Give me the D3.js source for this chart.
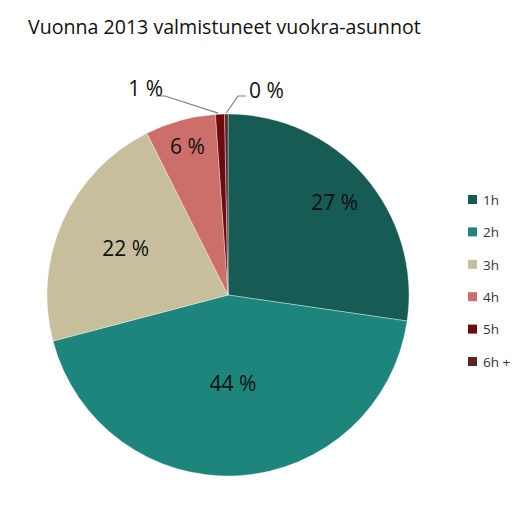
<!DOCTYPE html>
<html><head><meta charset="utf-8">
<script src="https://cdn.jsdelivr.net/npm/d3@7"></script>
<style>body{margin:0;background:#fff}svg{display:block}</style>
</head><body>
<script>
const categories = ["1h","2h","3h","4h","5h","6h +"];
const values = [27.3, 43.6, 21.7, 6.3, 0.8, 0.3];
const labels = ["27 %","44 %","22 %","6 %","1 %","0 %"];
const colors = ["#175b55","#1d857c","#c7bf9b","#cc6f6a","#6c0b0b","#5a2424"];
const labelRadius = [0.78, 0.49, 0.62, 0.85, null, null];

const W=531,H=517, cx=228, cy=295, R=181;
const svg=d3.select("body").append("svg").attr("width",W).attr("height",H);
const font="'Open Sans', sans-serif";

svg.append("text").attr("x",28).attr("y",34).attr("font-family",font).attr("font-size",19.6)
  .attr("fill","#111").text("Vuonna 2013 valmistuneet vuokra-asunnot");

const pie=d3.pie().sort(null).value(d=>d);
const arcs=pie(values);
const arc=d3.arc().innerRadius(0).outerRadius(R);
const g=svg.append("g").attr("transform",`translate(${cx},${cy})`);
g.selectAll("path").data(arcs).join("path").attr("d",arc)
  .attr("fill",(d,i)=>colors[i]).attr("stroke","#ffffff").attr("stroke-width",0.6).attr("stroke-opacity",0.6);

arcs.forEach((d,i)=>{
  if(labelRadius[i]==null) return;
  const a=(d.startAngle+d.endAngle)/2, r=R*labelRadius[i];
  g.append("text").attr("x",Math.sin(a)*r).attr("y",-Math.cos(a)*r).attr("dy","0.35em")
   .attr("text-anchor","middle").attr("font-family",font).attr("font-size",21).attr("fill","#111").text(labels[i]);
});

function edge(d){const a=(d.startAngle+d.endAngle)/2;return [Math.sin(a)*R, -Math.cos(a)*R];}
const e4=edge(arcs[4]), e5=edge(arcs[5]);
g.append("path").attr("d",d3.line()([[e4[0]-2,e4[1]-1],[-63,-199],[-72,-199]])).attr("fill","none").attr("stroke","#808080").attr("stroke-width",1.2);
g.append("text").attr("x",-65).attr("y",-199).attr("text-anchor","end").attr("font-family",font).attr("font-size",21).attr("fill","#111").text(labels[4]);
g.append("path").attr("d",d3.line()([[e5[0],e5[1]-1],[10,-199],[18,-199]])).attr("fill","none").attr("stroke","#808080").attr("stroke-width",1.2);
g.append("text").attr("x",21).attr("y",-197).attr("font-family",font).attr("font-size",21).attr("fill","#111").text(labels[5]);

const leg=svg.append("g");
const ly=d3.scalePoint().domain(categories).range([200,362]);
categories.forEach((c,i)=>{
  leg.append("rect").attr("x",468).attr("y",ly(c)-5).attr("width",9).attr("height",9).attr("fill",colors[i]);
  leg.append("text").attr("x",483).attr("y",ly(c)).attr("dy","0.35em").attr("font-family",font).attr("font-size",13.5).attr("fill","#333").text(c);
});
</script>
</body></html>
